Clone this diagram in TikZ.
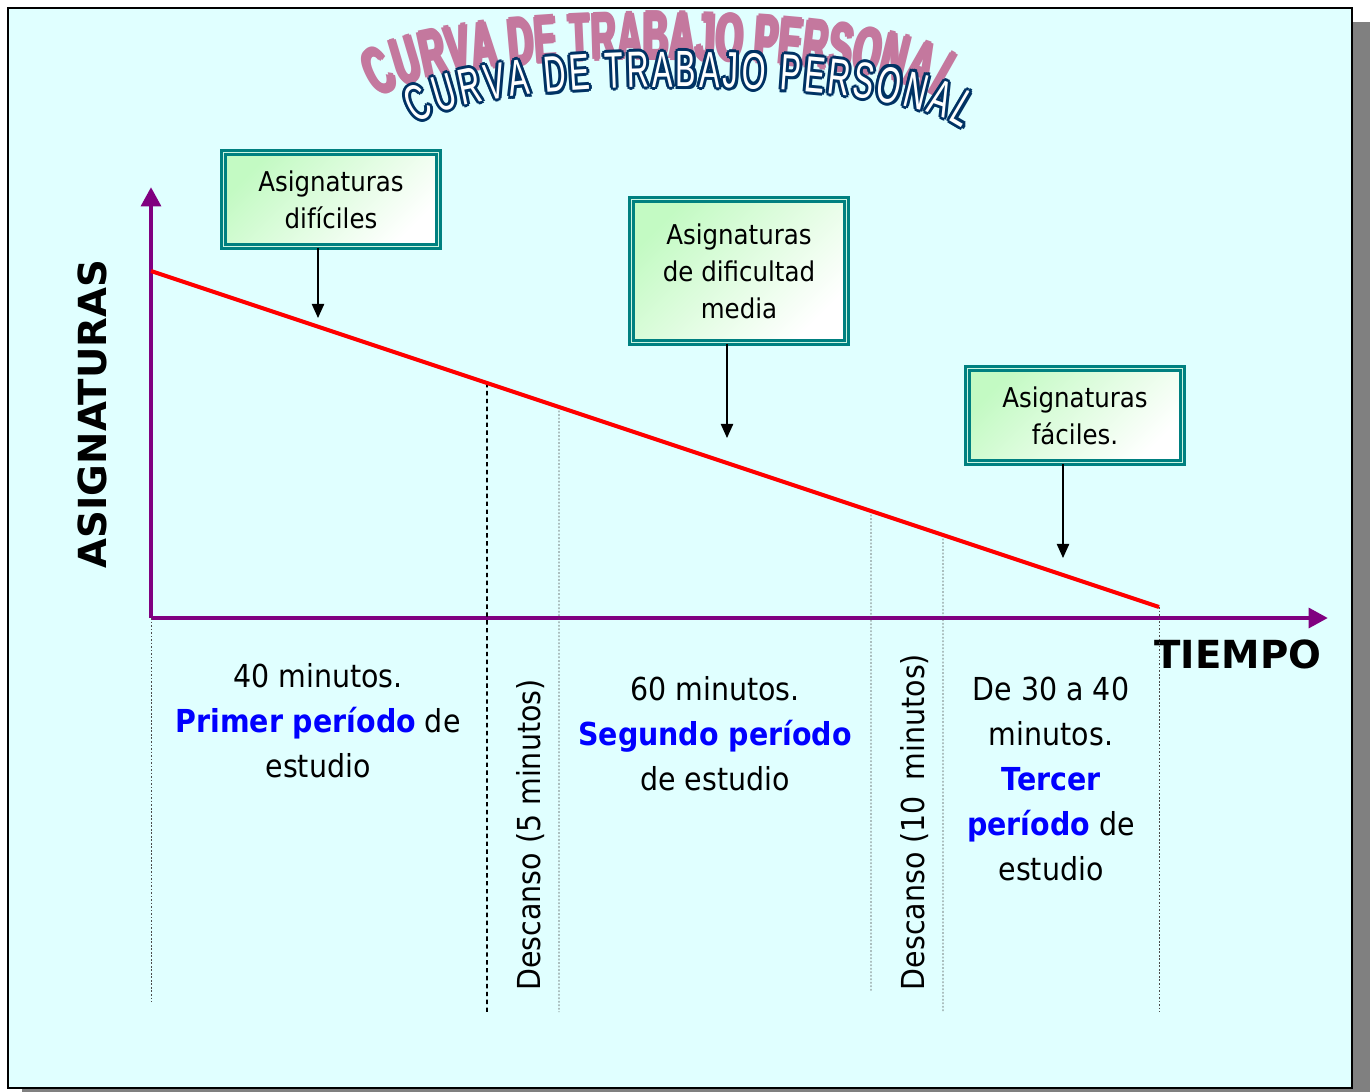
\documentclass[tikz,border=0pt]{standalone}
\usepackage{fontspec}
\setmainfont{DejaVu Sans}[FakeStretch=0.9]
\newfontfamily\axisfont{DejaVu Sans}
\newfontfamily\titlefont{Liberation Sans}[FakeStretch=0.6]
\newfontfamily\shadowfont{Liberation Sans}[FakeStretch=0.52]
\usetikzlibrary{arrows.meta,decorations.text,calc}
\definecolor{bgcyan}{RGB}{224,255,255}
\definecolor{shadowgray}{RGB}{128,128,128}
\definecolor{axispurple}{RGB}{128,0,128}
\definecolor{boxteal}{RGB}{0,128,128}
\definecolor{boxgap}{RGB}{205,245,225}
\definecolor{boxgreen}{RGB}{195,250,195}
\definecolor{titlenavy}{RGB}{0,50,100}
\definecolor{titlepink}{RGB}{196,120,158}

\begin{document}
\begin{tikzpicture}[x=0.02cm,y=-0.02cm]
	% `subject' is used for the three boxes, `pointer' for their arrows.
	% `divider' and `pause' are used for the vertical lines.
	\tikzstyle{subject} = [draw=boxteal,double=boxgap,line width=1.4pt,double distance=1.1pt,top color=boxgreen,bottom color=white,shading angle=45,minimum width=4.3cm,align=center,font=\fontsize{15.5}{21}\selectfont]
	\tikzstyle{pointer} = [line width=0.8pt,-{Triangle[length=8pt,width=7pt]}]
	\tikzstyle{timeaxis} = [axispurple,line width=2.8pt,-{Triangle[length=11pt,width=11pt]}]
	\tikzstyle{workcurve} = [red,line width=2.3pt]
	\tikzstyle{divider} = [black!70,line width=0.5pt,dash pattern=on 1pt off 1pt]
	\tikzstyle{pause} = [black,line width=1pt,dash pattern=on 2.5pt off 2pt]
	\tikzstyle{period} = [align=center,font=\fontsize{18}{25.5}\selectfont]
	\tikzstyle{axislabel} = [font=\axisfont\bfseries\fontsize{22}{22}\selectfont]
	%
	\useasboundingbox (0,0) rectangle (1370,1092);
	% Draw frame with its shadow.
	\fill[shadowgray] (22,22) rectangle (1370,1092);
	\draw[line width=1.1pt,fill=bgcyan] (8,8) rectangle (1352,1088);
	% Draw title: pink copy behind, then navy outline and white letters.
	\foreach \a in {0,90,180,270}
		\path[shift={(\a:1.8)},decorate,decoration={text along path,text color=titlepink,text align={fit to path},
			text={|\shadowfont\bfseries\fontsize{38}{38}\selectfont|CURVA DE TRABAJO PERSONAL}}]
			(378,98) .. controls (445,45) and (875,45) .. (945,102);
	\foreach \a in {0,45,...,315}
		\path[shift={(\a:3)},decorate,decoration={text along path,text color=titlenavy,text align={fit to path},
			text={|\titlefont\fontsize{29}{29}\selectfont|CURVA DE TRABAJO PERSONAL}}]
			(416,124) .. controls (480,74) and (895,74) .. (962,128);
	\path[decorate,decoration={text along path,text color=white,text align={fit to path},
		text={|\titlefont\fontsize{29}{29}\selectfont|CURVA DE TRABAJO PERSONAL}}]
		(416,124) .. controls (480,74) and (895,74) .. (962,128);
	% Axes and curve.
	\coordinate (origin) at (151,618);
	\coordinate (ytip) at (151,187);
	\coordinate (xtip) at (1328,618);
	\coordinate (cstart) at (151,271);
	\coordinate (cend) at (1159,607);
	\draw[timeaxis] (origin) -- (ytip);
	\draw[timeaxis] (origin) -- (xtip);
	\node[axislabel,rotate=90] (ylabel) at (92,414) {ASIGNATURAS};
	\node[axislabel] (xlabel) at (1238,654) {TIEMPO};
	% Draw lines between the periods.
	\draw[divider] (origin) -- (151,1002);
	\draw[pause] ($(cstart)!{336/1008}!(cend)$) -- (487,1012);
	\foreach \x/\bottom in {559/1012,871/992,943/1012,1159/1012}
		\draw[divider] ($(cstart)!{(\x-151)/1008}!(cend)$) -- (\x,\bottom);
	\draw[workcurve] (cstart) -- (cend);
	% Boxes and arrows.
	\node[subject,minimum height=1.88cm] (hard) at (331,199.5) {Asignaturas\\dif\'iciles};
	\node[subject,minimum height=2.86cm] (medium) at (739,271) {Asignaturas\\de dificultad\\media};
	\node[subject,minimum height=1.88cm] (easy) at (1075,415.5) {Asignaturas\\f\'aciles.};
	\coordinate (hardtip) at (318,318);
	\coordinate (mediumtip) at (727,438);
	\coordinate (easytip) at (1063,558);
	\draw[pointer] (hard.south -| hardtip) -- (hardtip);
	\draw[pointer] (medium.south -| mediumtip) -- (mediumtip);
	\draw[pointer] (easy.south -| easytip) -- (easytip);
	% Texts of the periods.
	\node[period] (first) at (318,721) {40 minutos.\\{\bfseries\color{blue}Primer per\'iodo} de\\estudio};
	\node[period,rotate=90] (rest1) at (531,835) {Descanso (5 minutos)};
	\node[period] (second) at (715,734) {60 minutos.\\{\bfseries\color{blue}Segundo per\'iodo}\\de estudio};
	\node[period,rotate=90] (rest2) at (915,822) {Descanso (10\enspace minutos)};
	\node[period] (third) at (1051,779) {De 30 a 40\\minutos.\\{\bfseries\color{blue}Tercer}\\{\bfseries\color{blue}per\'iodo} de\\estudio};
\end{tikzpicture}
\end{document}
